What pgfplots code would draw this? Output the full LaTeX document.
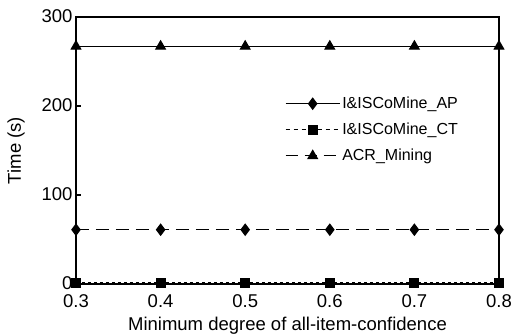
\documentclass[border=0pt]{standalone}
\usepackage{pgfplots}
\pgfplotsset{compat=1.18}
\usepackage{fontspec}
\setmainfont{Liberation Sans}
\begin{document}
\begin{tikzpicture}[x=1pt,y=1pt]
\begin{axis}[
  at={(0,0)}, anchor=south west,
  scale only axis, width=423pt, height=267pt,
  xmin=0.3, xmax=0.8, ymin=0, ymax=300,
  xtick={0.3,0.4,...,0.8}, ytick={0,100,200,300},
  xticklabel style={/pgf/number format/fixed,/pgf/number format/precision=1,/pgf/number format/fixed zerofill, yshift=-7pt},
  yticklabel style={yshift=1pt},
  /pgf/number format/assume math mode=true,
  tick label style={font=\fontsize{18.5}{18.5}\selectfont},
  label style={font=\fontsize{18.5}{18.5}\selectfont},
  xlabel={Minimum degree of all-item-confidence},
  ylabel={Time (s)},
  xlabel style={yshift=-3pt},
  ylabel style={yshift=10pt},
  tick pos=left, tick align=inside, major tick length=5pt,
  axis line style={line width=1.5pt},
  every tick/.style={black, line width=1.2pt},
  clip=false,
  legend style={draw=none, fill=none, inner sep=0pt, at={(0.494,0.708)}, anchor=north west,
    font=\fontsize{16}{16}\selectfont, row sep=9pt},
  legend cell align=left,
  legend image code/.code={\draw[mark repeat=2,mark phase=2,#1] plot coordinates {(0pt,0pt)(27pt,0pt)(54pt,0pt)};},
]
\addplot[black, line width=1.1pt, mark=triangle*, mark size=5.5pt, forget plot] coordinates {(0.3,267)(0.4,267)(0.5,267)(0.6,267)(0.7,267)(0.8,267)};
\addplot[black, line width=1.1pt, dash pattern=on 13pt off 7pt, mark=diamond*, mark size=5.5pt, mark options={solid}, forget plot] coordinates {(0.3,61)(0.4,61)(0.5,61)(0.6,61)(0.7,61)(0.8,61)};
\addplot[black, line width=1.1pt, dash pattern=on 3pt off 3pt, mark=square*, mark size=4.5pt, mark options={solid}, forget plot] coordinates {(0.3,1.5)(0.4,1.5)(0.5,1.5)(0.6,1.5)(0.7,1.5)(0.8,1.5)};
\addlegendimage{black, line width=1.1pt, mark=diamond*, mark size=5.5pt}
\addlegendentry{I\&ISCoMine\_AP}
\addlegendimage{black, line width=1.1pt, dash pattern=on 4pt off 4pt, mark=square*, mark size=4.5pt, mark options={solid}}
\addlegendentry{I\&ISCoMine\_CT}
\addlegendimage{black, line width=1.1pt, dash pattern=on 12pt off 7pt, mark=triangle*, mark size=5.5pt, mark options={solid}}
\addlegendentry{ACR\_Mining}
\end{axis}
\pgfresetboundingbox
\path[use as bounding box] (-76,-52) rectangle (436,284);
\end{tikzpicture}
\end{document}
